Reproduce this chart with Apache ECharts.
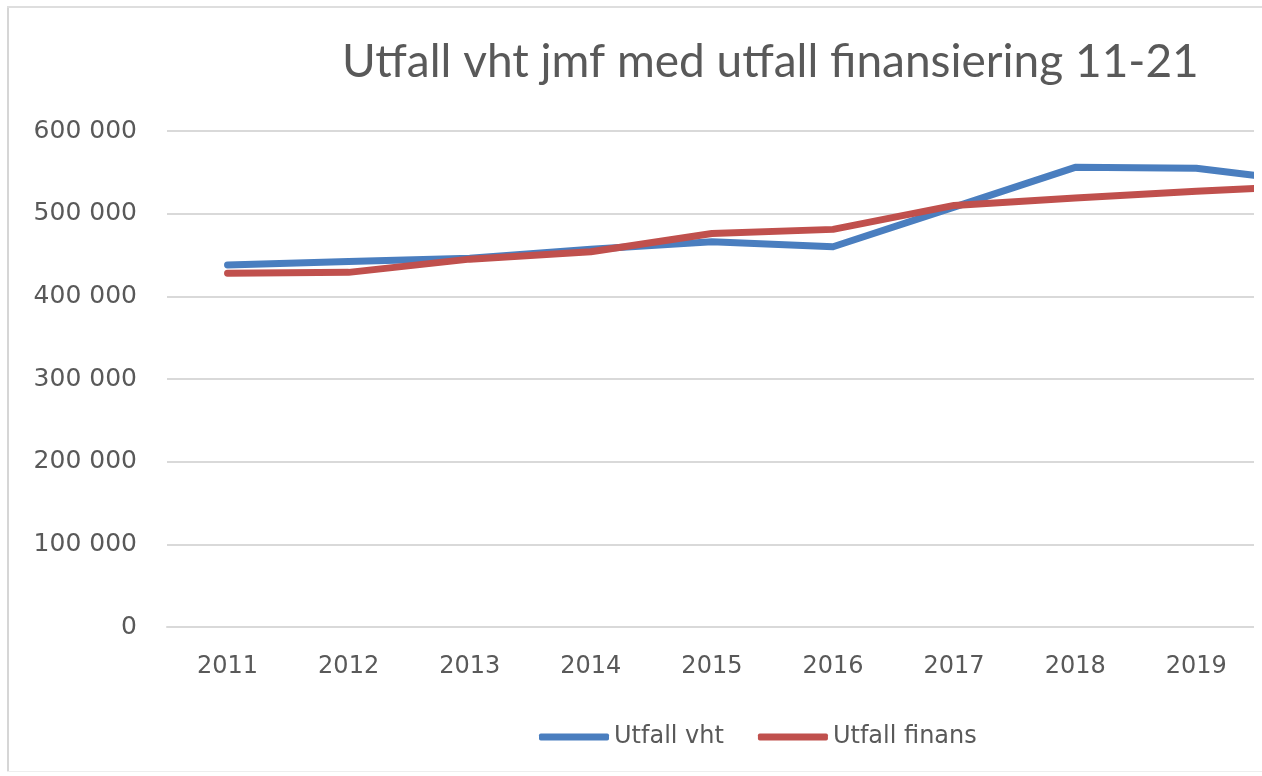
<!DOCTYPE html>
<html>
<head>
<meta charset="utf-8">
<script src="https://cdn.jsdelivr.net/npm/echarts@6/dist/echarts.min.js"></script>
<style>
  html, body { margin: 0; padding: 0; background: #ffffff; }
  #page { position: relative; width: 1262px; height: 776px; overflow: hidden; background: #fff; }
  #clip { position: absolute; left: 0; top: 0; width: 1254px; height: 776px; overflow: hidden; }
  #chart { position: absolute; left: 0; top: 0; width: 1600px; height: 776px; }
  .frameL { position: absolute; left: 7px; top: 7px; width: 2px; height: 765px; background: #d6d6d6; }
  .frameT { position: absolute; left: 7px; top: 6px; width: 1255px; height: 2px; background: #dedede; }
  .frameB { position: absolute; left: 7px; top: 771px; width: 1255px; height: 1px; background: #eeeeee; }
</style>
</head>
<body>
<div id="page">
  <div id="clip"><div id="chart"></div></div>
  <div class="frameL"></div>
  <div class="frameT"></div>
  <div class="frameB"></div>
</div>
<script>
const titleText = 'Utfall vht jmf med utfall finansiering 11-21';
const years = ['2011','2012','2013','2014','2015','2016','2017','2018','2019','2020','2021'];
const utfallVht = [438000, 442000, 446000, 457000, 466000, 460000, 508000, 556000, 555000, 537000, 540000];
const utfallFinans = [428000, 429000, 445000, 454000, 476000, 481000, 510000, 519000, 527000, 534000, 540000];
const seriesNames = ['Utfall vht', 'Utfall finans'];
const colors = ['#4a7ebf', '#c0504d'];

const chart = echarts.init(document.getElementById('chart'), null, { renderer: 'canvas' });
const txt = '#595959';
chart.setOption({
  animation: false,
  backgroundColor: '#ffffff',
  title: {
    text: titleText,
    left: 337, top: 34,
    textStyle: { fontFamily: 'Lato', fontWeight: 'normal', fontSize: 46, color: txt }
  },
  legend: {
    data: seriesNames,
    left: 534, top: 720,
    icon: 'roundRect',
    itemWidth: 70, itemHeight: 7,
    itemGap: 34,
    textStyle: { fontFamily: 'DejaVu Sans', fontSize: 24, color: txt }
  },
  grid: { left: 167, top: 131, height: 496, width: 1332, containLabel: false },
  xAxis: {
    type: 'category',
    data: years,
    boundaryGap: true,
    axisLine: { show: true, lineStyle: { color: '#d9d9d9', width: 2 } },
    axisTick: { show: false },
    axisLabel: { margin: 28, fontFamily: 'DejaVu Sans', fontSize: 24, color: txt }
  },
  yAxis: {
    type: 'value',
    min: 0, max: 600000, interval: 100000,
    axisLine: { show: false },
    axisTick: { show: false },
    splitLine: { lineStyle: { color: '#d9d9d9', width: 2 } },
    axisLabel: {
      margin: 30, fontFamily: 'DejaVu Sans', fontSize: 25, color: txt,
      formatter: v => String(v).replace(/\B(?=(\d{3})+(?!\d))/g, ' ')
    }
  },
  series: [
    { name: seriesNames[0], type: 'line', data: utfallVht, symbol: 'none', smooth: false,
      lineStyle: { width: 7, color: colors[0], cap: 'round', join: 'round' }, itemStyle: { color: colors[0] } },
    { name: seriesNames[1], type: 'line', data: utfallFinans, symbol: 'none', smooth: false,
      lineStyle: { width: 7, color: colors[1], cap: 'round', join: 'round' }, itemStyle: { color: colors[1] } }
  ]
});
</script>
</body>
</html>
